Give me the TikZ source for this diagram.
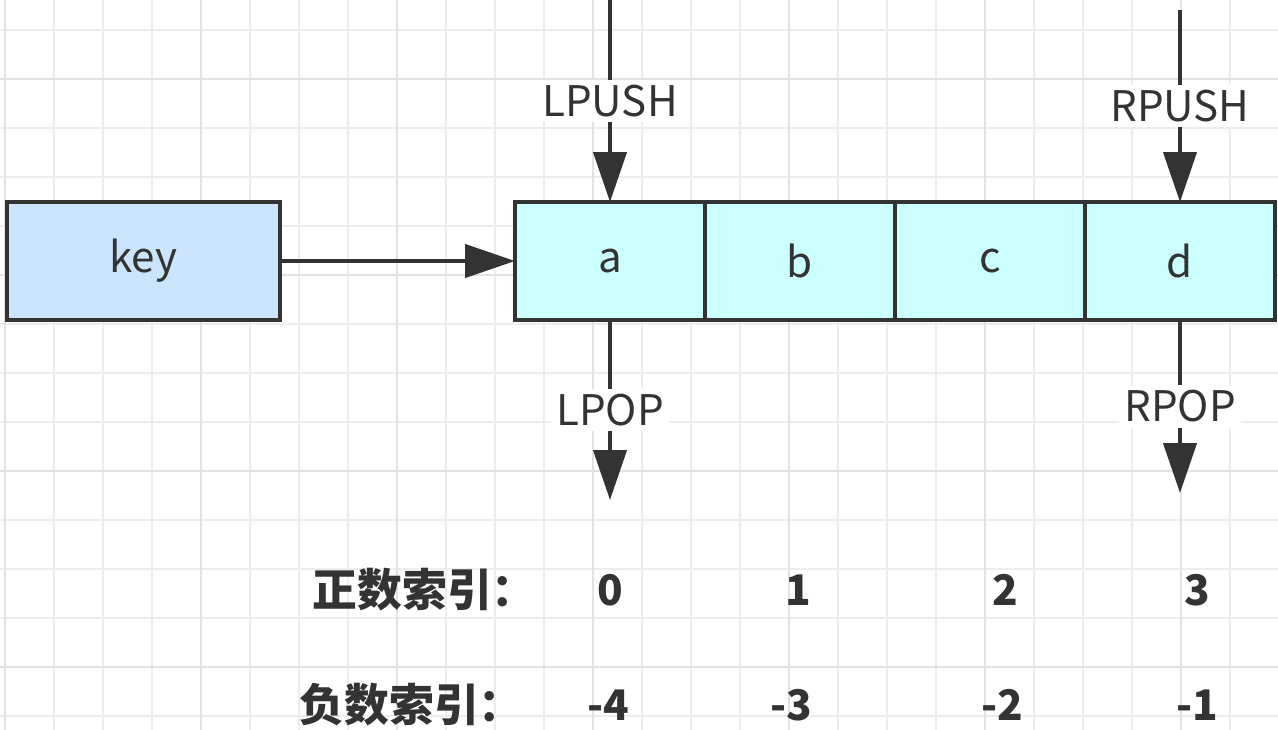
\documentclass[tikz,border=0pt]{standalone}
\usepackage{fontspec}
\setmainfont{Noto Sans CJK SC}
\usepackage{xcolor}
\usetikzlibrary{arrows.meta}

\definecolor{keyfill}{HTML}{CCE5FF}
\definecolor{cellfill}{HTML}{CCFFFF}
\definecolor{edgec}{HTML}{333333}
\definecolor{gridminor}{HTML}{EDEDED}
\definecolor{gridmajor}{HTML}{E2E2E2}

\begin{document}
\begin{tikzpicture}[
    x=0.02cm, y=-0.02cm,
    >={Triangle[length=1cm, width=0.66cm]},
    font=\fontsize{24}{28}\selectfont,
    box/.style    = {draw=edgec, line width=2.5pt, minimum height=2.36cm,
                     inner sep=0pt, outer sep=0pt, text=edgec},
    keybox/.style = {box, fill=keyfill, minimum width=5.46cm},
    cell/.style   = {box, fill=cellfill, minimum width=3.8cm},
    arr/.style    = {->, draw=edgec, line width=2.4pt},
    oplbl/.style  = {fill=white, inner sep=3pt, text=edgec},
    idx/.style    = {font=\fontsize{24}{28}\selectfont\bfseries, text=edgec},
    rowlbl/.style = {anchor=east, text=edgec,
                     font=\fontsize{25.5}{30}\selectfont\bfseries},
]

%% -- background grid -------------------------------------------------------
\fill[white] (0,0) rectangle (1278,730);
\useasboundingbox (0,0) rectangle (1278,730);
\foreach \i in {0,...,26}
  \draw[gridminor, line width=1.1pt] (5+49*\i, 0) -- (5+49*\i, 730);
\foreach \j in {0,...,14}
  \draw[gridminor, line width=1.1pt] (0, 30+49*\j) -- (1278, 30+49*\j);
\foreach \i in {0,4,...,24}
  \draw[gridmajor, line width=1.1pt] (5+49*\i, 0) -- (5+49*\i, 730);
\foreach \j in {1,5,9,13}
  \draw[gridmajor, line width=1.1pt] (0, 30+49*\j) -- (1278, 30+49*\j);

%% -- key and list cells ----------------------------------------------------
\node[keybox] (key) at (143.5, 261) {key};

\node[cell] (a) at ( 610, 261) {a};
\node[cell] (b) at ( 800, 261) {b};
\node[cell] (c) at ( 990, 261) {c};
\node[cell] (d) at (1180, 261) {d};

\draw[arr] (key) -- (a);

%% -- push / pop ------------------------------------------------------------
\coordinate (lpushsrc) at ( 610,   0);
\coordinate (rpushsrc) at (1180,  10);
\coordinate (lpopdst)  at ( 610, 500);
\coordinate (rpopdst)  at (1180, 493);

\draw[arr] (lpushsrc) -- node[oplbl] (lpush) {LPUSH} (a.north);
\draw[arr] (rpushsrc) -- node[oplbl] (rpush) {RPUSH} (d.north);
\draw[arr] (a.south) -- node[oplbl] (lpop) {LPOP} (lpopdst);
\draw[arr] (d.south) -- node[oplbl] (rpop) {RPOP} (rpopdst);

%% -- index rows ------------------------------------------------------------
\node[rowlbl] (posl) at (543, 590) {正数索引：};
\node[idx] (p0) at ( 610, 590) {0};
\node[idx] (p1) at ( 798, 590) {1};
\node[idx] (p2) at (1005, 590) {2};
\node[idx] (p3) at (1197, 590) {3};

\node[rowlbl] (negl) at (530, 705) {负数索引：};
\node[idx] (n4) at ( 608, 705) {-4};
\node[idx] (n3) at ( 791, 705) {-3};
\node[idx] (n2) at (1002, 705) {-2};
\node[idx] (n1) at (1197, 705) {-1};

\end{tikzpicture}
\end{document}
